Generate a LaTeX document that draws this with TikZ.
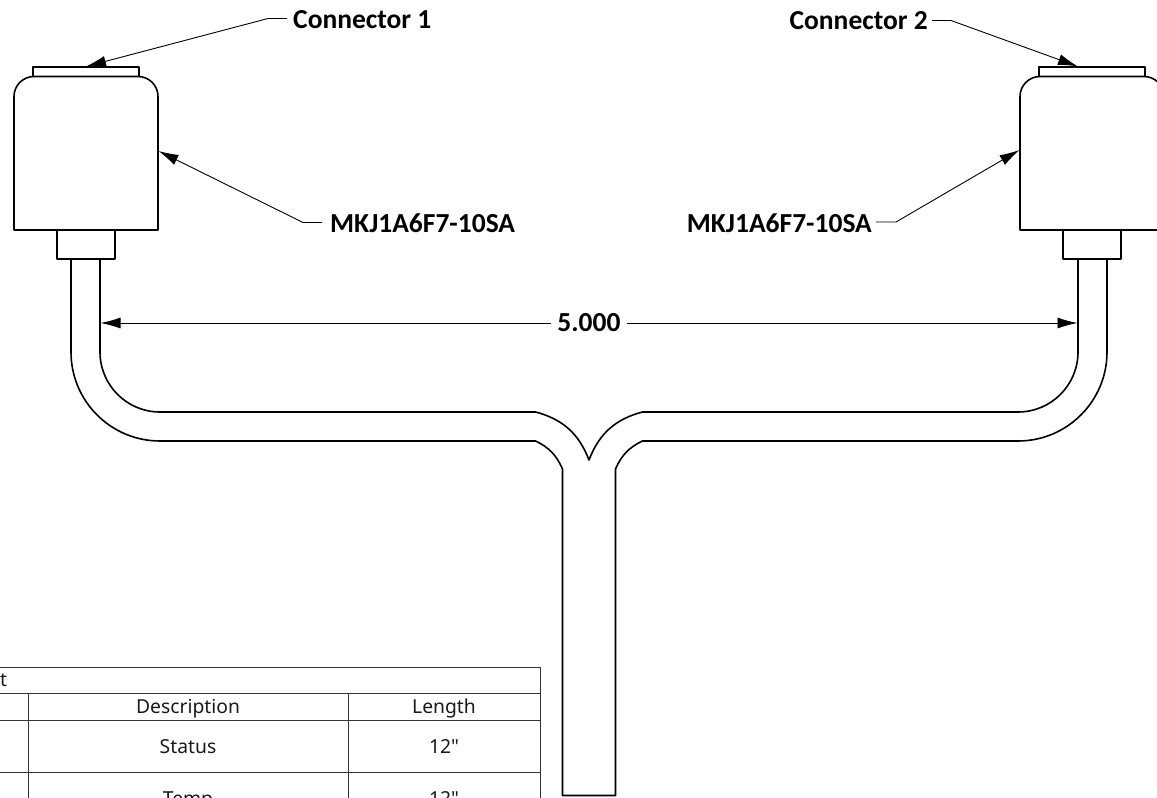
\documentclass[tikz,border=0pt]{standalone}
\usepackage{fontspec}
\setmainfont{Carlito}
\newfontfamily\tablefont{Noto Sans}
\usetikzlibrary{arrows.meta}

\begin{document}
\begin{tikzpicture}[
		x=1pt, y=1pt,
		part/.style={line width=1.6pt, draw=black, line join=round},
		gridline/.style={line width=1pt, draw=black!80},
		leader/.style={line width=0.9pt, draw=black, -{Latex[length=20pt,width=11pt]}},
		callout/.style={font=\bfseries\fontsize{27.5}{32}\selectfont, inner sep=0pt, text=black},
		cell/.style={font=\tablefont\fontsize{19.3}{23}\selectfont, inner sep=0pt, anchor=base, text=black!90}
	]

	\useasboundingbox (0,-798) rectangle (1157,0);
	\clip (0,-798) rectangle (1157,0);

	\draw[part] (33,-76.5) -- (33,-67) -- (139,-67) -- (139,-76.5);
	\draw[part] (14,-230) -- (14,-96.5) arc (180:90:20) -- (138,-76.5) arc (90:0:20) -- (158,-230) -- cycle;
	\draw[part] (57,-230) rectangle (115,-259);

	\draw[part] (1039,-76.5) -- (1039,-67) -- (1145,-67) -- (1145,-76.5);
	\draw[part] (1020,-230) -- (1020,-96.5) arc (180:90:20) -- (1144,-76.5) arc (90:0:20) -- (1164,-230) -- cycle;
	\draw[part] (1063,-230) rectangle (1121,-259);

	\draw[part] (71,-259) -- (71,-352) arc (180:270:89) -- (535.7,-441) to[bend left=20] (562.5,-469) -- (562.5,-795.5) -- (615.5,-795.5) -- (615.5,-469) to[bend left=20] (642.3,-441) -- (1018,-441) arc (270:360:89) -- (1107,-259);
	\draw[part] (100,-259) -- (100,-352) arc (180:270:60) -- (535.7,-412) to[bend left=27] (589,-460) to[bend left=27] (642.3,-412) -- (1018,-412) arc (270:360:60) -- (1078,-259);

	\coordinate (cap1) at (86,-66.5);
	\coordinate (cap2) at (1078,-66.5);
	\coordinate (body1) at (158.5,-151);
	\coordinate (body2) at (1019.5,-150);
	\coordinate (tube1) at (100.5,-323);
	\coordinate (tube2) at (1077.5,-323);
	\coordinate (knee1) at (268,-18.5);
	\coordinate (knee2) at (951,-20.5);
	\coordinate (knee3) at (303,-222.5);
	\coordinate (knee4) at (896,-222);

	\node (conn1) [callout, anchor=west] at (293,-20) {Connector 1};
	\node (conn2) [callout, anchor=east] at (928,-21) {Connector 2};
	\node (part1) [callout, anchor=west] at (330,-223) {MKJ1A6F7-10SA};
	\node (part2) [callout, anchor=east] at (872,-223) {MKJ1A6F7-10SA};
	\node (span) [callout, inner xsep=6pt] at (589,-323) {5.000};

	\draw[leader] ([xshift=-6pt]conn1.west |- knee1) -- (knee1) -- (cap1);
	\draw[leader] ([xshift=4pt]conn2.east |- knee2) -- (knee2) -- (cap2);
	\draw[leader] ([xshift=-8pt]part1.west |- knee3) -- (knee3) -- (body1);
	\draw[leader] ([xshift=4pt]part2.east |- knee4) -- (knee4) -- (body2);
	\draw[leader] (span.west) -- (tube1);
	\draw[leader] (span.east) -- (tube2);

	\draw[gridline] (0,-667) -- (540,-667) -- (540,-798);
	\draw[gridline] (0,-693.7) -- (540,-693.7);
	\draw[gridline] (0,-720.7) -- (540,-720.7);
	\draw[gridline] (0,-772) -- (540,-772);
	\draw[gridline] (28,-693.7) -- (28,-798);
	\draw[gridline] (348,-693.7) -- (348,-798);

	\node (title) [cell, anchor=base west] at (0,-686) {t};
	\node (desc) [cell] at (188,-713) {Description};
	\node (len) [cell] at (444,-713) {Length};
	\node (status) [cell] at (188,-753) {Status};
	\node (statuslen) [cell] at (444,-753) {12"};
	\node (temp) [cell] at (188,-805) {Temp};
	\node (templen) [cell] at (444,-805) {12"};

\end{tikzpicture}
\end{document}
